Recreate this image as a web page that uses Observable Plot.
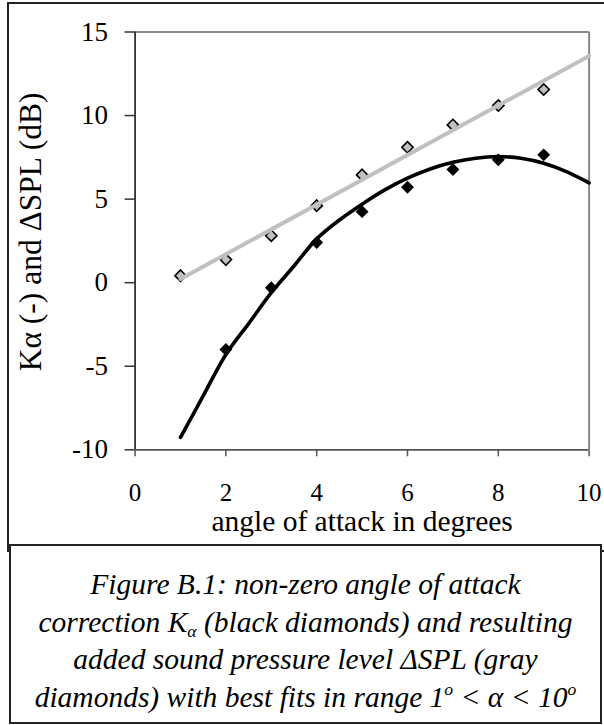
<!DOCTYPE html>
<html><head><meta charset="utf-8">
<script src="https://cdn.jsdelivr.net/npm/d3@7"></script>
<script src="https://cdn.jsdelivr.net/npm/@observablehq/plot@0.6"></script>
<style>
html,body{margin:0;padding:0;background:#fff;}
#wrap{position:relative;width:604px;height:725px;overflow:hidden;font-family:"Liberation Serif","Times New Roman",serif;}
#outer{position:absolute;left:7px;top:2px;width:610px;height:550px;border:2px solid #222;box-sizing:border-box;}
#chart{position:absolute;left:0;top:0;}
#caption{position:absolute;left:9px;top:544px;width:593px;height:180px;border:2px solid #222;box-sizing:border-box;background:#fff;font-style:italic;font-size:29.5px;line-height:37.5px;text-align:center;padding-top:20px;color:#000;}
#caption sup{font-size:60%;line-height:0;vertical-align:0;position:relative;top:-0.65em;}
#caption sub{font-size:60%;line-height:0;vertical-align:0;position:relative;top:0.3em;}
</style></head>
<body>
<div id="wrap">
  <div id="outer"></div>
  <div id="chart"></div>
  <div id="caption">Figure B.1: non-zero angle of attack<br>correction K<sub>α</sub> (black diamonds) and resulting<br>added sound pressure level ΔSPL (gray<br>diamonds) with best fits in range 1<sup>o</sup> &lt; α &lt; 10<sup>o</sup></div>
</div>
<script>
const splAngles = [1, 2, 3, 4, 5, 6, 7, 8, 9];
const splValues = [0.42, 1.38, 2.81, 4.61, 6.45, 8.1, 9.44, 10.6, 11.56];
const kAngles = [2, 3, 4, 5, 6, 7, 8, 9];
const kValues = [-4.0, -0.3, 2.4, 4.25, 5.71, 6.77, 7.35, 7.65];
// best-fit lines
const splFitX = [1, 10];
const splFitY = [0.22, 13.57];
const kFitX = [1, 1.5, 2, 2.5, 3, 3.5, 4, 4.5, 5, 5.5, 6, 6.5, 7, 7.5, 8, 8.5, 9, 9.5, 10];
const kFitY = [-9.26, -6.77, -4.3, -2.45, -0.6, 1.0, 2.62, 3.75, 4.7, 5.55, 6.25, 6.8, 7.2, 7.45, 7.54, 7.45, 7.15, 6.65, 5.97];
const xTicks = [0, 2, 4, 6, 8, 10];
const yTicks = [-10, -5, 0, 5, 10, 15];
const xTitle = "angle of attack in degrees";
const yTitle = "Kα (-) and ΔSPL (dB)";

const spl = splAngles.map((a, i) => ({x: a, y: splValues[i]}));
const kd = kAngles.map((a, i) => ({x: a, y: kValues[i]}));
const splFit = splFitX.map((a, i) => ({x: a, y: splFitY[i]}));
const kFit = kFitX.map((a, i) => ({x: a, y: kFitY[i]}));

const chart = Plot.plot({
  width: 604, height: 545,
  marginLeft: 134.6, marginRight: 15.4, marginTop: 31.5, marginBottom: 95.7,
  style: {fontFamily: "'Liberation Serif','Times New Roman',serif", background: "transparent", overflow: "visible", color: "#000"},
  x: {domain: [0, 10]},
  y: {domain: [-10, 15]},
  marks: [
    Plot.ruleY([15], {stroke: "#888", strokeWidth: 2}),
    Plot.ruleX([10], {stroke: "#888", strokeWidth: 2}),
    Plot.dot(spl, {x: "x", y: "y", symbol: "diamond2", r: 5.1, fill: "#c0c0c0", stroke: "#000", strokeWidth: 1.6}),
    Plot.dot(kd, {x: "x", y: "y", symbol: "diamond2", r: 5.8, fill: "#000"}),
    Plot.line(splFit, {x: "x", y: "y", stroke: "#c0c0c0", strokeWidth: 4}),
    Plot.line(kFit, {x: "x", y: "y", stroke: "#000", strokeWidth: 3.6, curve: "catmull-rom"}),
    Plot.axisY(yTicks, {tickSize: 10, tickPadding: 17, fontSize: 27, label: null, stroke: "#333", strokeWidth: 1.5, tickFormat: d => String(d)}),
    Plot.axisX(xTicks, {tickSize: 7, tickPadding: 26, fontSize: 25, label: null, stroke: "#555", strokeWidth: 1.5, tickFormat: d => String(d)}),
    Plot.ruleX([0], {stroke: "#333", strokeWidth: 1.8}),
    Plot.ruleY([-10], {stroke: "#555", strokeWidth: 1.8}),
    Plot.text([xTitle], {frameAnchor: "bottom", lineAnchor: "middle", textAnchor: "middle", dy: 71.3, fontSize: 29.5, text: d => d}),
    Plot.text([yTitle], {frameAnchor: "left", lineAnchor: "middle", textAnchor: "middle", dx: -104.6, dy: -9, rotate: -90, fontSize: 31.5, text: d => d})
  ]
});
document.getElementById("chart").appendChild(chart);
</script>
</body></html>
